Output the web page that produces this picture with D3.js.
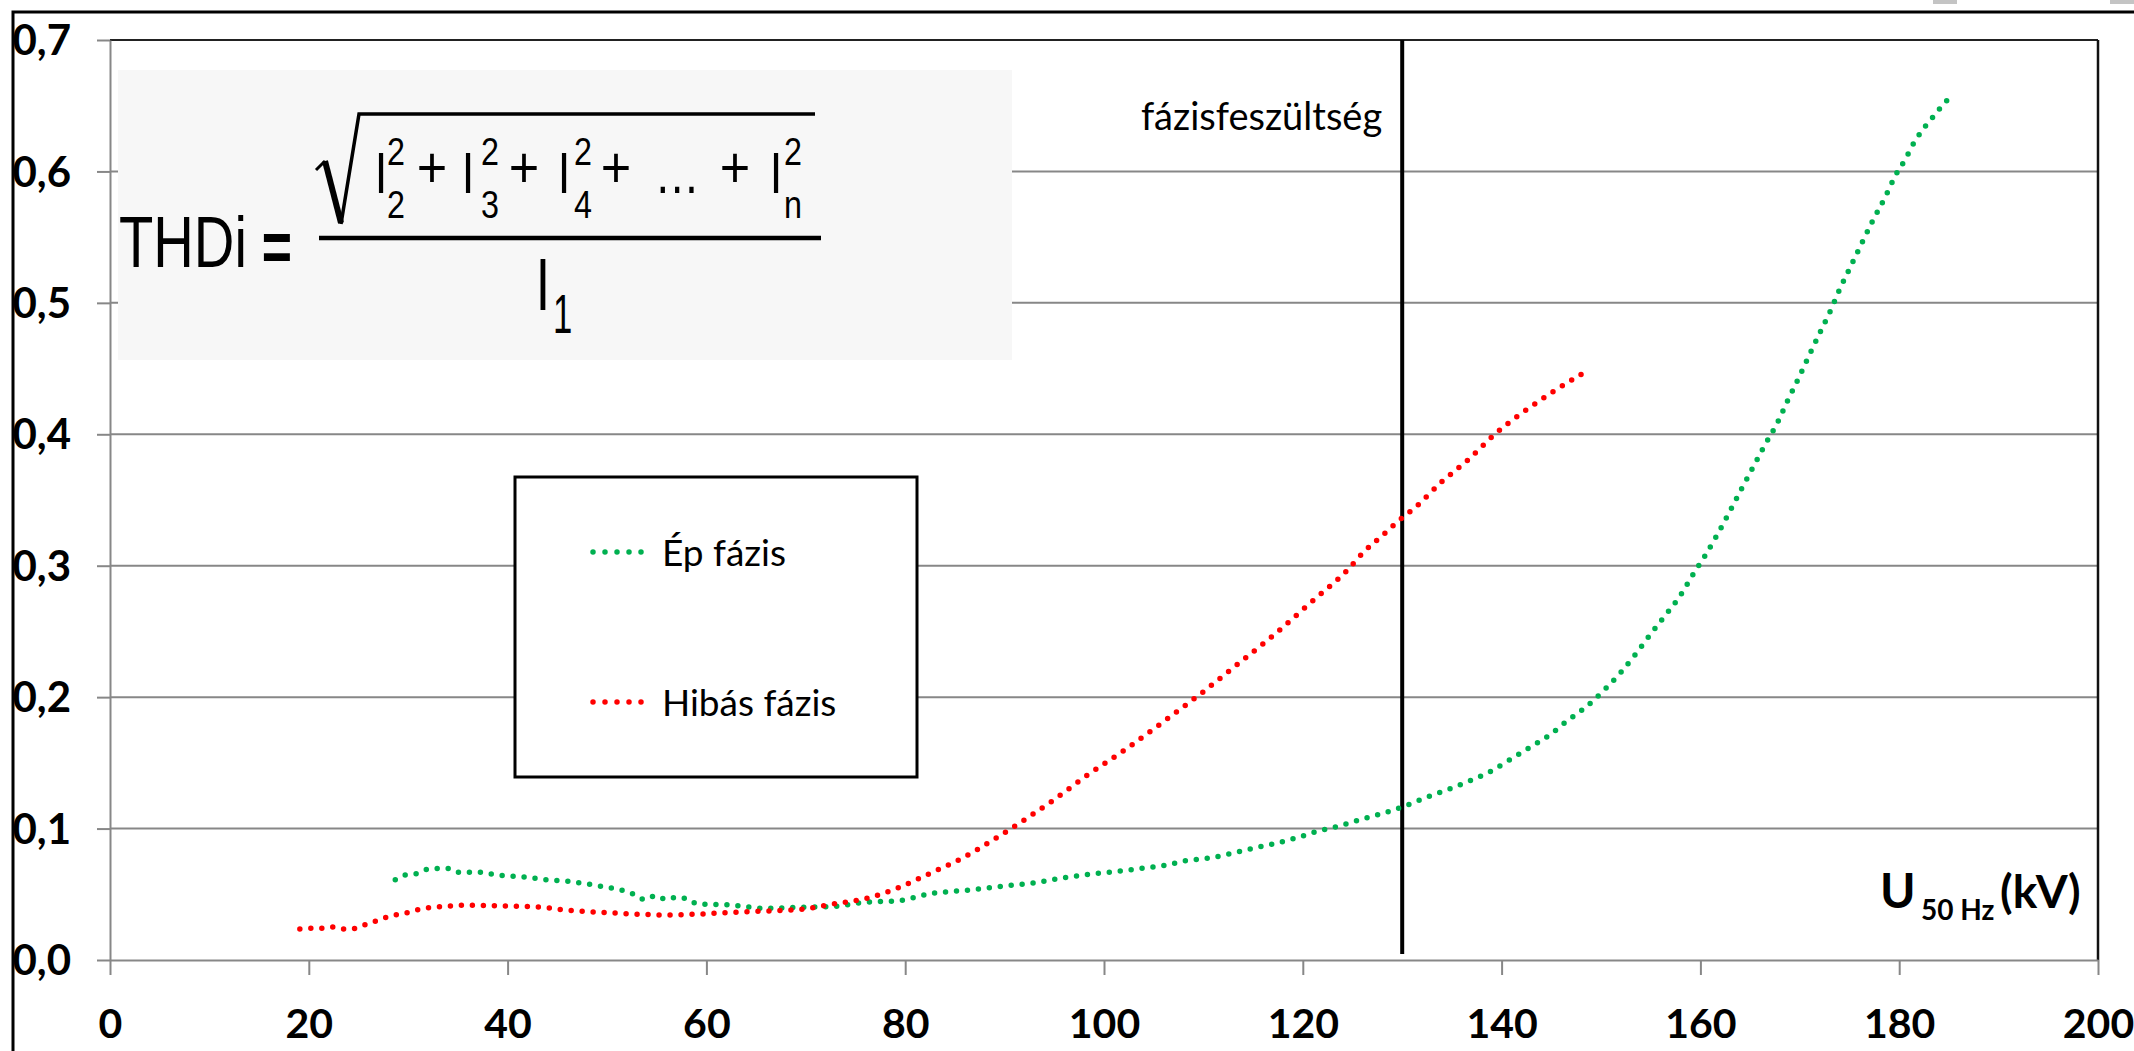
<!DOCTYPE html>
<html>
<head>
<meta charset="utf-8">
<script src="https://cdn.jsdelivr.net/npm/d3@7"></script>
<style>
  html, body { margin: 0; padding: 0; background: #fff; }
  svg { display: block; }
</style>
</head>
<body>
<svg id="chart" width="2134" height="1051"></svg>
<script>
// ---- data ----
const xTicks = [0, 20, 40, 60, 80, 100, 120, 140, 160, 180, 200];
const yTicks = [0, 0.1, 0.2, 0.3, 0.4, 0.5, 0.6, 0.7];
const seriesNames = ["Ép fázis", "Hibás fázis"];
const markerVoltage = 130;           // kV
const markerLabel = "fázisfeszültség";

// THDi vs. U (kV) for the healthy phase
const epFazis = [
  [28.7, 0.061], [29.7, 0.0646], [30.8, 0.0656], [31.9, 0.069], [33.0, 0.0697],
  [34.1, 0.0697], [35.2, 0.0667], [37.5, 0.0667], [38.6, 0.065], [41.9, 0.063],
  [44.0, 0.061], [46.4, 0.0596], [49.6, 0.0558], [51.0, 0.054], [52.8, 0.0497],
  [53.8, 0.046], [54.9, 0.049], [56.0, 0.046], [57.0, 0.0477], [58.1, 0.0464],
  [59.1, 0.0426], [62.5, 0.0418], [65.9, 0.0393], [69.2, 0.040], [72.6, 0.0406],
  [76.0, 0.0439], [79.3, 0.0451], [82.7, 0.0507], [86.1, 0.053], [89.4, 0.0558],
  [92.8, 0.0586], [96.2, 0.0629], [99.4, 0.066], [101.6, 0.0676], [103.8, 0.0697],
  [106.1, 0.072], [108.3, 0.0757], [110.5, 0.0775], [112.8, 0.081], [115.0, 0.085],
  [117.2, 0.0886], [119.4, 0.093], [121.5, 0.098], [123.7, 0.102], [125.9, 0.107],
  [128.1, 0.1117], [130.2, 0.117], [132.4, 0.1237], [134.6, 0.1297], [136.7, 0.136],
  [138.8, 0.1432], [140.8, 0.1522], [142.9, 0.162], [144.8, 0.171], [146.6, 0.182],
  [148.5, 0.1926], [150.2, 0.2045], [151.9, 0.218], [153.4, 0.232], [154.9, 0.247],
  [156.4, 0.2616], [157.9, 0.2764], [159.2, 0.2927], [160.5, 0.308], [161.8, 0.325],
  [163.0, 0.342], [164.1, 0.358], [165.3, 0.375], [166.5, 0.392], [167.7, 0.408],
  [168.8, 0.426], [169.9, 0.443], [171.0, 0.461], [172.0, 0.477], [173.1, 0.4943],
  [174.1, 0.5118], [175.2, 0.529], [176.3, 0.5464], [177.4, 0.5635], [178.6, 0.5806],
  [179.7, 0.598], [180.6, 0.609], [181.5, 0.622], [182.2, 0.630], [182.9, 0.637],
  [183.7, 0.644], [184.4, 0.651], [185.3, 0.657]
];

// THDi vs. U (kV) for the faulty phase
const hibasFazis = [
  [19.1, 0.0236], [20.3, 0.0241], [21.4, 0.0241], [22.5, 0.0251], [23.6, 0.0236],
  [24.7, 0.0241], [25.8, 0.0272], [26.9, 0.030], [28.0, 0.033], [29.1, 0.035],
  [30.2, 0.0365], [31.3, 0.039], [32.5, 0.040], [34.7, 0.0414], [35.8, 0.0418],
  [39.2, 0.0411], [42.6, 0.0406], [45.9, 0.038], [49.3, 0.0363], [52.7, 0.035],
  [56.0, 0.0342], [59.4, 0.035], [62.7, 0.0363], [66.1, 0.0373], [69.5, 0.0385],
  [72.8, 0.0426], [76.2, 0.0471], [79.4, 0.0553], [82.5, 0.0659], [85.7, 0.0773],
  [88.7, 0.0907], [91.6, 0.1047], [94.6, 0.120], [98.4, 0.141], [102.3, 0.161],
  [106.1, 0.182], [109.8, 0.203], [113.6, 0.226], [117.2, 0.248], [120.8, 0.272],
  [124.4, 0.296], [126.2, 0.311], [128.0, 0.323], [129.6, 0.334], [131.4, 0.345],
  [134.0, 0.364], [136.7, 0.381], [139.3, 0.400], [142.1, 0.4165], [145.0, 0.4315],
  [148.2, 0.4465]
];

// ---- layout ----
const svg = d3.select("#chart");
const x = d3.scaleLinear().domain([0, 200]).range([110, 2098]);
const y = d3.scaleLinear().domain([0, 0.7]).range([960, 40]);
const GRID = "#878787";
const GREEN = "#00b050";
const RED = "#ff0000";
const TXT = "Lato, 'Open Sans', 'Liberation Sans', sans-serif";
const MATH = "'Liberation Sans', Arial, sans-serif";
const fmtY = d => d3.format(".1f")(d).replace(".", ",");

// outer frame
svg.append("rect").attr("x", 13).attr("y", 12).attr("width", 2300).attr("height", 1200)
  .attr("fill", "none").attr("stroke", "#000").attr("stroke-width", 3);
svg.append("rect").attr("x", 1933).attr("y", 0).attr("width", 24).attr("height", 4).attr("fill", "#c4c4c4");
svg.append("rect").attr("x", 2110).attr("y", 0).attr("width", 24).attr("height", 4).attr("fill", "#c4c4c4");

// horizontal gridlines
svg.append("g").selectAll("line")
  .data(yTicks.filter(v => v > 0 && v < 0.7))
  .join("line")
  .attr("x1", x(0)).attr("x2", x(200))
  .attr("y1", d => y(d)).attr("y2", d => y(d))
  .attr("stroke", GRID).attr("stroke-width", 2);

// plot area top and right border
svg.append("line").attr("x1", x(0)).attr("x2", x(200)).attr("y1", y(0.7)).attr("y2", y(0.7))
  .attr("stroke", "#222").attr("stroke-width", 2);
svg.append("line").attr("x1", x(200)).attr("x2", x(200)).attr("y1", y(0.7)).attr("y2", y(0))
  .attr("stroke", "#111").attr("stroke-width", 2.5);

// axes
const yAxis = d3.axisLeft(y).tickValues(yTicks).tickFormat(fmtY)
  .tickSizeInner(13).tickSizeOuter(0).tickPadding(26);
const gy = svg.append("g").attr("transform", `translate(${x(0)},0)`).call(yAxis);
gy.selectAll("path.domain, line").attr("stroke", GRID).attr("stroke-width", 2);
gy.selectAll("text").attr("font-family", TXT).attr("font-weight", 700)
  .attr("font-size", 42).attr("fill", "#000").attr("dy", "0.35em");

const xAxis = d3.axisBottom(x).tickValues(xTicks).tickFormat(d3.format("d"))
  .tickSizeInner(15).tickSizeOuter(0);
const gx = svg.append("g").attr("transform", `translate(0,${y(0)})`).call(xAxis);
gx.selectAll("path.domain, line").attr("stroke", GRID).attr("stroke-width", 2);
gx.selectAll("text").attr("font-family", TXT).attr("font-weight", 700)
  .attr("font-size", 41).attr("fill", "#000").attr("y", 78).attr("dy", 0);

// formula panel
const fp = svg.append("g");
fp.append("rect").attr("x", 118).attr("y", 70).attr("width", 894).attr("height", 290).attr("fill", "#f7f7f7");
function glyph(str, cx, base, size, opts = {}) {
  return fp.append("text")
    .attr("transform", `translate(${cx},${base}) scale(${opts.sx || 0.78},1)`)
    .attr("text-anchor", opts.anchor || "middle")
    .attr("font-family", MATH).attr("font-size", size)
    .attr("font-weight", opts.bold ? 700 : 400)
    .attr("fill", "#000").text(str);
}
glyph("THDi", 119, 267, 72, { anchor: "start" });
glyph("=", 277, 271, 72, { bold: true, sx: 0.72 });
// radical sign and fraction bar
fp.append("path").attr("d", "M316,170 L325,161").attr("stroke", "#000").attr("stroke-width", 3).attr("fill", "none");
fp.append("path").attr("d", "M325,161 L341,223").attr("stroke", "#000").attr("stroke-width", 6).attr("fill", "none");
fp.append("path").attr("d", "M341,224 L359,114 L815,114").attr("stroke", "#000").attr("stroke-width", 3.5)
  .attr("fill", "none").attr("stroke-linejoin", "miter");
fp.append("line").attr("x1", 319).attr("x2", 821).attr("y1", 238).attr("y2", 238)
  .attr("stroke", "#000").attr("stroke-width", 4.5);
// numerator
const harmonics = [["2", 381, 396], ["3", 468, 490], ["4", 564, 583], ["n", 776, 793]];
harmonics.forEach(([sub, ix, sx]) => {
  glyph("I", ix, 193, 58);
  glyph("2", sx, 165, 38, { sx: 0.85 });
  glyph(sub, sx, 218, 38, { sx: 0.85 });
});
[432, 524, 616, 735].forEach(px => glyph("+", px, 187, 58, { sx: 0.9 }));
glyph("…", 677, 193, 58);
// denominator
glyph("I", 543, 310, 74, { sx: 0.7 });
glyph("1", 553, 333, 56, { sx: 0.62, anchor: "start" });

// marker line at phase voltage
svg.append("line").attr("x1", x(markerVoltage)).attr("x2", x(markerVoltage))
  .attr("y1", y(0.7)).attr("y2", y(0.0045))
  .attr("stroke", "#000").attr("stroke-width", 4);
svg.append("text").attr("x", x(markerVoltage) - 20).attr("y", 130)
  .attr("text-anchor", "end").attr("font-family", TXT).attr("font-size", 38)
  .attr("fill", "#000").text(markerLabel);

// curves
const line = d3.line().x(d => x(d[0])).y(d => y(d[1])).curve(d3.curveMonotoneX);
const series = [
  { name: seriesNames[0], data: epFazis, color: GREEN },
  { name: seriesNames[1], data: hibasFazis, color: RED }
];
svg.append("g").selectAll("path")
  .data(series)
  .join("path")
  .attr("d", d => line(d.data))
  .attr("fill", "none")
  .attr("stroke", d => d.color)
  .attr("stroke-width", 5.5)
  .attr("stroke-linecap", "round")
  .attr("stroke-dasharray", "0 11");

// legend
const lg = svg.append("g");
lg.append("rect").attr("x", 515).attr("y", 477).attr("width", 402).attr("height", 300)
  .attr("fill", "#fff").attr("stroke", "#000").attr("stroke-width", 3);
const rows = lg.selectAll("g.row").data(series).join("g").attr("class", "row")
  .attr("transform", (d, i) => `translate(0,${552 + i * 150})`);
rows.append("line").attr("x1", 593).attr("x2", 653).attr("y1", 0).attr("y2", 0)
  .attr("stroke", d => d.color).attr("stroke-width", 5.5)
  .attr("stroke-linecap", "round").attr("stroke-dasharray", "0 12");
rows.append("text").attr("x", 662).attr("y", 14)
  .attr("font-family", TXT).attr("font-size", 37).attr("fill", "#000")
  .text(d => d.name);

// x-axis title
const xt = svg.append("text").attr("font-family", TXT).attr("font-weight", 700).attr("fill", "#000");
xt.append("tspan").attr("x", 1880).attr("y", 908).attr("font-size", 48).text("U");
xt.append("tspan").attr("x", 1921).attr("y", 920).attr("font-size", 28).text("50 Hz");
xt.append("tspan").attr("x", 2000).attr("y", 908).attr("font-size", 46).text("(kV)");
</script>
</body>
</html>
